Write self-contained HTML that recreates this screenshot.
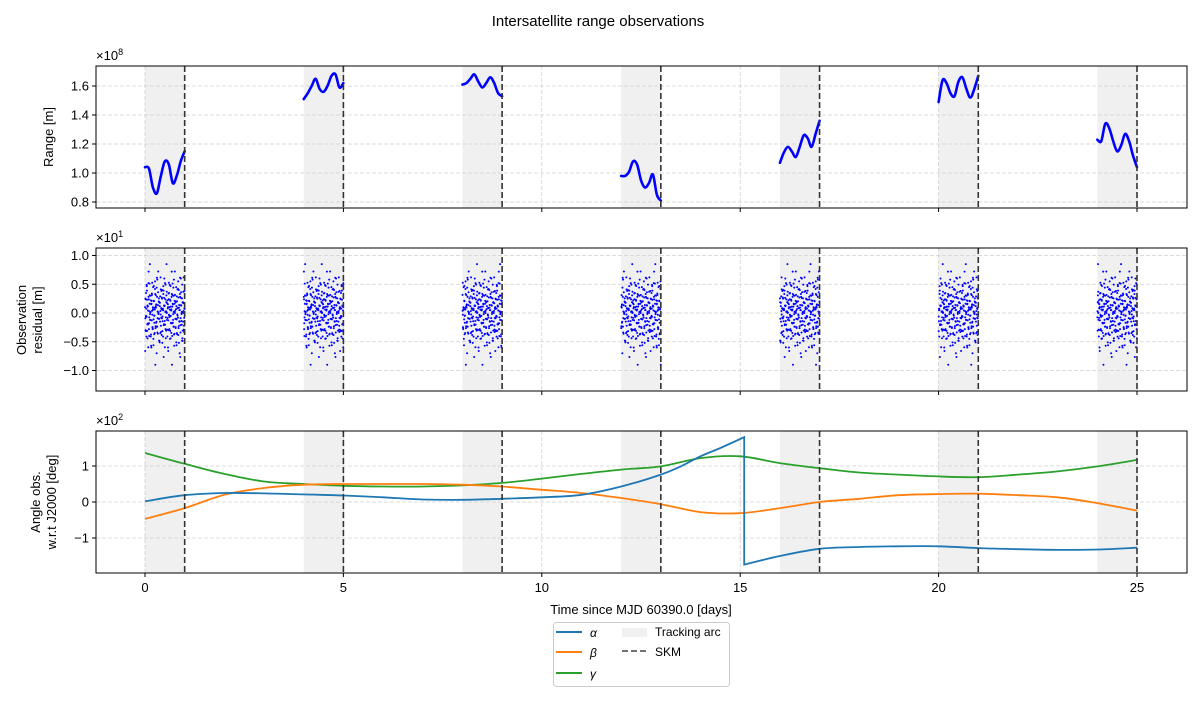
<!DOCTYPE html>
<html><head><meta charset="utf-8"><style>
body{margin:0;background:#fff;}
svg{display:block;font-family:"Liberation Sans","DejaVu Sans",sans-serif;}
</style></head><body>
<svg id="c" width="1202" height="708" xmlns="http://www.w3.org/2000/svg">
<text x="598" y="26" font-size="15" text-anchor="middle">Intersatellite range observations</text>
</svg>
<script>
const arcStarts=[0,4,8,12,16,20,24];
const rangeVals=[
[1.04,1.03,0.90,0.86,0.98,1.08,1.06,0.93,0.98,1.08,1.15],
[1.51,1.55,1.60,1.65,1.58,1.56,1.60,1.67,1.68,1.59,1.62],
[1.61,1.62,1.65,1.68,1.63,1.59,1.62,1.66,1.62,1.55,1.53],
[0.98,0.98,1.01,1.08,1.06,0.95,0.90,0.93,0.99,0.85,0.81],
[1.07,1.14,1.18,1.15,1.11,1.18,1.26,1.24,1.18,1.27,1.36],
[1.49,1.64,1.62,1.55,1.53,1.63,1.66,1.58,1.52,1.58,1.67],
[1.23,1.22,1.34,1.31,1.22,1.15,1.19,1.27,1.22,1.12,1.04]];
const residVals=[0.12,-0.35,0.41,-0.08,0.27,-0.52,0.05,0.33,-0.21,0.6,-0.14,0.02,-0.44,0.19,0.37,-0.29,0.08,-0.66,0.24,-0.05,0.49,-0.31,0.11,-0.18,0.72,-0.4,0.16,-0.02,0.3,-0.57,0.21,0.04,-0.26,0.45,-0.11,-0.37,0.09,0.55,-0.23,0.14,-0.7,0.28,-0.09,0.36,0.01,-0.48,0.18,-0.15,0.62,-0.33,0.07,0.25,-0.06,-0.41,0.39,0.13,-0.2,0.52,-0.28,0.03,0.85,-0.12,0.22,-0.6,0.34,-0.03,0.1,-0.45,0.47,-0.17,0.06,-0.9,0.31,0.15,-0.24,0.58,-0.36,0.0,0.2,-0.1];
const angT=[0,1,2,3,4,5,6,7,8,9,10,11,12,13,13.5,14,14.5,15.1,15.1,16,17,18,19,20,21,22,23,24,25];
const alphaV=[0.02,0.19,0.25,0.24,0.21,0.18,0.13,0.07,0.06,0.09,0.13,0.2,0.43,0.76,0.99,1.27,1.5,1.8,-1.74,-1.5,-1.3,-1.25,-1.23,-1.23,-1.28,-1.31,-1.33,-1.32,-1.27];
const betaT=[0,1,2,3,4,5,6,7,8,9,10,11,12,13,14,15,16,17,18,19,20,21,22,23,24,25];
const betaV=[-0.47,-0.17,0.2,0.39,0.48,0.5,0.5,0.5,0.48,0.43,0.34,0.25,0.11,-0.06,-0.28,-0.31,-0.17,0,0.09,0.19,0.22,0.23,0.19,0.13,-0.03,-0.24];
const gammaV=[1.36,1.06,0.78,0.57,0.5,0.45,0.43,0.43,0.46,0.53,0.65,0.78,0.9,0.99,1.22,1.27,1.08,0.94,0.82,0.76,0.71,0.69,0.76,0.85,0.99,1.17];
const xTicks=[0,5,10,15,20,25];

const svg=document.getElementById('c');
const NS='http://www.w3.org/2000/svg';
function mk(tag,attrs,parent){const e=document.createElementNS(NS,tag);for(const k in attrs)e.setAttribute(k,attrs[k]);(parent||svg).appendChild(e);return e;}
function smooth(P){ // Catmull-Rom to bezier, breaks at vertical jumps
 let d='M'+P[0][0].toFixed(1)+','+P[0][1].toFixed(1);
 for(let i=0;i<P.length-1;i++){
  const p0=P[Math.max(0,i-1)],p1=P[i],p2=P[i+1],p3=P[Math.min(P.length-1,i+2)];
  if(Math.abs(p2[0]-p1[0])<0.5){d+='L'+p2[0].toFixed(1)+','+p2[1].toFixed(1);continue;}
  const q0=(Math.abs(p1[0]-p0[0])<0.5)?p1:p0, q3=(Math.abs(p3[0]-p2[0])<0.5)?p2:p3;
  const c1=[p1[0]+(p2[0]-q0[0])/6,p1[1]+(p2[1]-q0[1])/6],c2=[p2[0]-(q3[0]-p1[0])/6,p2[1]-(q3[1]-p1[1])/6];
  d+='C'+c1[0].toFixed(1)+','+c1[1].toFixed(1)+' '+c2[0].toFixed(1)+','+c2[1].toFixed(1)+' '+p2[0].toFixed(1)+','+p2[1].toFixed(1);
 }
 return d;
}
const X0=96,X1=1187;
const sx=d=>145+d*(1137-145)/25;
const panels=[
 {top:66,bot:208,y:v=>202-(v-0.8)*(202-86)/0.8,ticks:[0.8,1.0,1.2,1.4,1.6],fmt:v=>v.toFixed(1),exp:'8',name:'range'},
 {top:248,bot:391,y:v=>313-v*57.5,ticks:[-1.0,-0.5,0,0.5,1.0],fmt:v=>(v<0?'−':'')+Math.abs(v).toFixed(1),exp:'1',name:'residual'},
 {top:431,bot:573,y:v=>502-v*36,ticks:[-1,0,1],fmt:v=>(v<0?'−':'')+Math.abs(v),exp:'2',name:'angle'}];
panels.forEach((p,pi)=>{
 const g=mk('g',{});
 
 
 arcStarts.forEach(a=>{const r=mk('rect',{x:sx(a),y:p.top,width:sx(a+1)-sx(a),height:p.bot-p.top,fill:'#f0f0f0'},g);
  });
 for(let d=0;d<=25;d+=5)mk('line',{x1:sx(d),x2:sx(d),y1:p.top,y2:p.bot,stroke:'#d0d0d0','stroke-dasharray':'4,2','stroke-width':0.8},g);
 p.ticks.forEach(t=>{const y=p.y(t);
  mk('line',{x1:X0,x2:X1,y1:y,y2:y,stroke:'#d0d0d0','stroke-dasharray':'4,2','stroke-width':0.8},g);
  mk('line',{x1:X0-4,x2:X0,y1:y,y2:y,stroke:'#000'},g);
  const tx=mk('text',{x:X0-7,y:y+4.5,'font-size':13,'text-anchor':'end'},g);tx.textContent=p.fmt(t);
  });
 xTicks.forEach(t=>{mk('line',{x1:sx(t),x2:sx(t),y1:p.bot,y2:p.bot+4,stroke:'#000'},g);
  if(pi===2){const tx=mk('text',{x:sx(t),y:p.bot+19,'font-size':13,'text-anchor':'middle'},g);tx.textContent=t;
   }});
 const ex=mk('text',{x:96,y:p.top-6,'font-size':13},g);
 ex.innerHTML='×10<tspan dy="-5" font-size="9">'+p.exp+'</tspan>';
 
 p.g=g;
});
// range
rangeVals.forEach((vals,k)=>{
 const P=vals.map((v,i)=>[sx(arcStarts[k]+i/10),panels[0].y(v)]);
 const pl=mk('path',{d:smooth(P),fill:'none',stroke:'#0000ff','stroke-width':2.6,'stroke-linejoin':'round','stroke-linecap':'round'},panels[0].g);
 
});
// residuals
arcStarts.forEach((a,k)=>{
 const n=residVals.length;
 for(let pass=0;pass<4;pass++){
  for(let i=0;i<n;i++){
   const v=residVals[(i+pass*17+k*7)%n];
   const t=a+((i+pass*0.25+0.1)/n);
   const c=mk('circle',{cx:sx(t),cy:panels[1].y(v*(pass%2?1:0.85)),r:1,fill:'#0000ff'},panels[1].g);
   
  }}
});
// angles
function line(ts,vs,color,name){
 const P=ts.map((t,i)=>[sx(t),panels[2].y(vs[i])]);
 const pl=mk('path',{d:smooth(P),fill:'none',stroke:color,'stroke-width':1.8},panels[2].g);
 
}
line(betaT,gammaV,'#2ca02c','gamma-line');
line(betaT,betaV,'#ff7f0e','beta-line');
line(angT,alphaV,'#1f77b4','alpha-line');
// SKM lines and frames
panels.forEach(p=>{
 arcStarts.forEach(a=>{const l=mk('line',{x1:sx(a+1),x2:sx(a+1),y1:p.top,y2:p.bot,stroke:'#333','stroke-width':1.6,'stroke-dasharray':'6,3'},p.g);
  });
 mk('rect',{x:X0,y:p.top,width:X1-X0,height:p.bot-p.top,fill:'none',stroke:'#000','stroke-width':1},p.g);
});
</script>
<script>
(function(){
const NS='http://www.w3.org/2000/svg',svg=document.getElementById('c');
function t(x,y,s,attrs,name){const e=document.createElementNS(NS,'text');e.setAttribute('x',x);e.setAttribute('y',y);e.setAttribute('font-size',13);for(const k in attrs)e.setAttribute(k,attrs[k]);e.textContent=s;


svg.appendChild(e);return e;}
t(53,137,'Range [m]',{'text-anchor':'middle',transform:'rotate(-90 53 137)'},'y-axis-title-range');
t(26,320,'Observation',{'text-anchor':'middle',transform:'rotate(-90 26 320)'},'y-axis-title-residual');
t(42,320,'residual [m]',{'text-anchor':'middle',transform:'rotate(-90 42 320)'},'y-axis-title-residual-2');
t(40,502,'Angle obs.',{'text-anchor':'middle',transform:'rotate(-90 40 502)'},'y-axis-title-angle');
t(56,502,'w.r.t J2000 [deg]',{'text-anchor':'middle',transform:'rotate(-90 56 502)'},'y-axis-title-angle-2');
t(641,614,'Time since MJD 60390.0 [days]',{'text-anchor':'middle'},'x-axis-title');
const g=document.createElementNS(NS,'g');


g.innerHTML='<rect x="553.5" y="622.5" width="176" height="64" rx="3" fill="#fff" stroke="#ccc"/>'+
'<line x1="556" x2="582" y1="632" y2="632" stroke="#1f77b4" stroke-width="2"/><text x="590" y="637" font-size="12" font-style="italic">α</text>'+
'<line x1="556" x2="582" y1="652" y2="652" stroke="#ff7f0e" stroke-width="2"/><text x="590" y="657" font-size="12" font-style="italic">β</text>'+
'<line x1="556" x2="582" y1="673" y2="673" stroke="#2ca02c" stroke-width="2"/><text x="590" y="678" font-size="12" font-style="italic">γ</text>'+
'<rect x="622" y="628" width="25" height="9" fill="#f0f0f0"/><text x="655" y="636" font-size="12">Tracking arc</text>'+
'<line x1="622" x2="647" y1="651" y2="651" stroke="#444" stroke-width="1.6" stroke-dasharray="6,3"/><text x="655" y="656" font-size="12">SKM</text>';
svg.appendChild(g);
})();
</script>
</body></html>
